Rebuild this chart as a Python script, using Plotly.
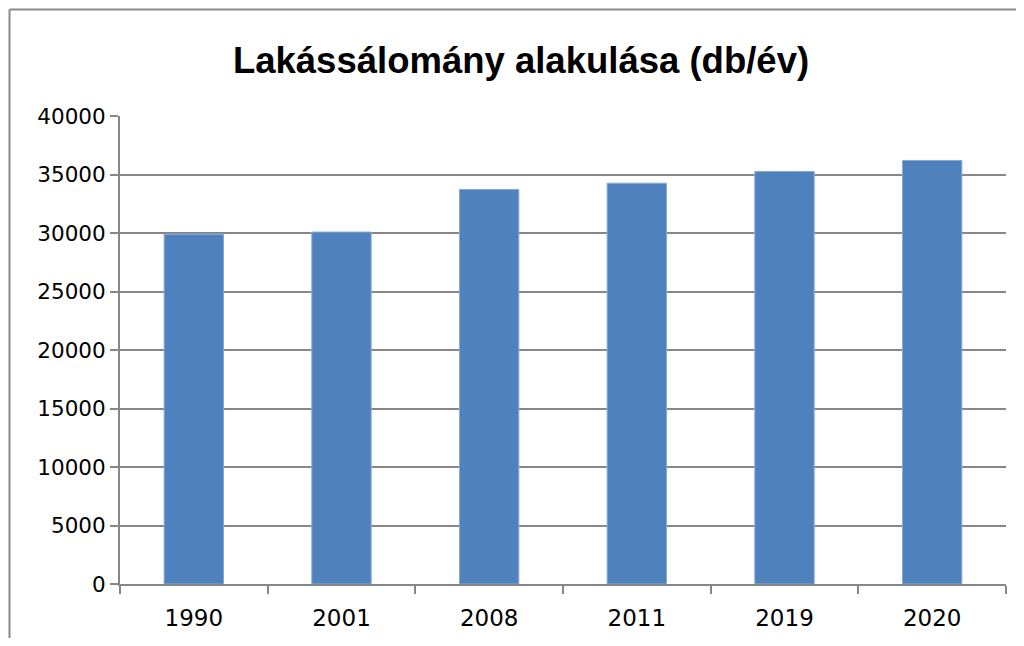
import plotly.graph_objects as go

years = ["1990", "2001", "2008", "2011", "2019", "2020"]
values = [29900, 30080, 33720, 34260, 35260, 36200]
y_ticks = [0, 5000, 10000, 15000, 20000, 25000, 30000, 35000, 40000]

# page body has an 8px margin, so the figure is offset by 8px
OFF = 8
W, H = 1024 - 2 * OFF, 646 - 2 * OFF
L, T = 120 - OFF, 116 - OFF
R = (OFF + W) - 1006
B = (OFF + H) - 584
pw, ph = W - L - R, H - T - B

fig = go.Figure(go.Bar(
    x=years, y=values, width=0.402,
    marker=dict(color="#4F81BD", line=dict(color="#8AAAD6", width=1)),
))

grid = "#878787"
fig.update_layout(
    width=W, height=H,
    margin=dict(l=L, r=R, t=T, b=B, autoexpand=False),
    paper_bgcolor="white", plot_bgcolor="white",
    showlegend=False,
    title=dict(text="<b>Lakássálomány alakulása (db/év)</b>",
               x=(521 - OFF - L) / pw, xref="paper", xanchor="center",
               y=1 - (60 - OFF) / H, yanchor="middle",
               font=dict(family="Liberation Sans, sans-serif", size=36.5, color="black")),
)
fig.update_xaxes(
    type="category", showline=True, linecolor=grid, linewidth=2,
    ticks="outside", tickson="boundaries", ticklen=8, tickcolor=grid, tickwidth=1.5,
    tickfont=dict(family="DejaVu Sans", size=23, color="black"),
    ticklabelstandoff=12, automargin=False,
    showgrid=False,
)
fig.update_yaxes(
    range=[0, 40000], tickvals=y_ticks, ticktext=[str(v) for v in y_ticks],
    showline=True, linecolor=grid, linewidth=2,
    ticks="outside", ticklen=8, tickcolor=grid, tickwidth=1.5,
    showgrid=True, gridcolor=grid, gridwidth=1.5, zeroline=False, automargin=False,
    tickfont=dict(family="DejaVu Sans", size=21.5, color="black"),
)

bx = (9.5 - OFF - L) / pw
by = 1 + (T - (9.5 - OFF)) / ph
fig.add_shape(type="line", xref="paper", yref="paper", x0=bx, x1=1.2, y0=by, y1=by,
              line=dict(color="#8a8a8a", width=2))
fig.add_shape(type="line", xref="paper", yref="paper", x0=bx, x1=bx, y0=by, y1=-0.3,
              line=dict(color="#8a8a8a", width=2))

fig.write_html("out.html")
